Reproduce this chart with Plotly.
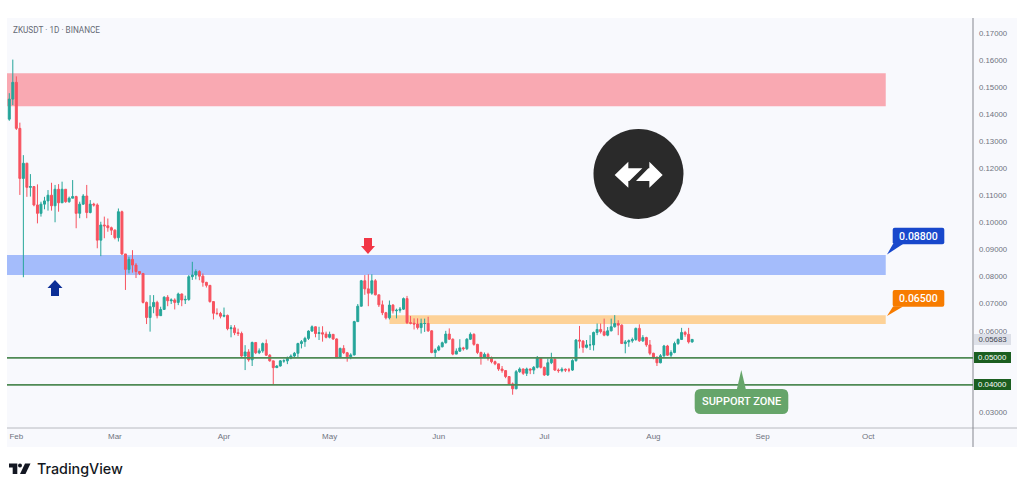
import pandas as pd
import plotly.graph_objects as go

first_day = "2025-01-30"
closes = [
 .1456,.1518,.1348,.1163,.1219,.1130,.1133,.1065,.1034,.1068,
 .1080,.1101,.1062,.1123,.1073,.1123,.1077,.1090,.1096,.1034,
 .1068,.1098,.1037,.1068,.1065,.0935,.0991,.0988,.0981,.0972,
 .0944,.1040,.0884,.0827,.0864,.0843,.0819,.0812,.0705,.0649,
 .0689,.0705,.0656,.0679,.0724,.0711,.0714,.0705,.0736,.0714,
 .0716,.0800,.0806,.0819,.0802,.0779,.0768,.0708,.0665,.0664,
 .0654,.0657,.0608,.0611,.0593,.0590,.0507,.0522,.0493,.0557,
 .0519,.0526,.0553,.0510,.0489,.0464,.0470,.0489,.0489,.0499,
 .0507,.0517,.0553,.0560,.0572,.0599,.0615,.0590,.0593,.0588,
 .0576,.0587,.0570,.0501,.0535,.0519,.0504,.0511,.0634,.0691,
 .0785,.0755,.0739,.0785,.0733,.0696,.0667,.0648,.0695,.0674,
 .0676,.0680,.0719,.0630,.0628,.0625,.0612,.0627,.0627,.0600,
 .0520,.0529,.0541,.0556,.0588,.0569,.0514,.0525,.0537,.0534,
 .0569,.0587,.0550,.0520,.0503,.0513,.0499,.0486,.0478,.0459,
 .0453,.0431,.0404,.0386,.0449,.0459,.0443,.0459,.0455,.0465,
 .0501,.0465,.0437,.0482,.0495,.0455,.0453,.0458,.0455,.0455,
 .0490,.0566,.0562,.0539,.0548,.0548,.0594,.0605,.0597,.0584,
 .0600,.0615,.0627,.0621,.0553,.0559,.0563,.0568,.0609,.0563,
 .0575,.0548,.0517,.0501,.0482,.0508,.0544,.0510,.0520,.0553,
 .0568,.0594,.0587,.0559,.05683]
highs = [
 .1478,.1602,.1540,.1369,.1249,.1221,.1179,.1135,.1141,.1077,
 .1095,.1120,.1147,.1139,.1142,.1151,.1123,.1096,.1157,.1099,
 .1077,.1105,.1139,.1083,.1073,.1071,.1003,.1022,.1015,.0985,
 .0975,.1052,.1044,.0884,.0874,.0898,.0850,.0820,.0812,.0708,
 .0732,.0732,.0711,.0689,.0728,.0732,.0720,.0720,.0741,.0738,
 .0730,.0806,.0855,.0827,.0824,.0812,.0781,.0769,.0708,.0683,
 .0670,.0686,.0660,.0621,.0621,.0608,.0597,.0547,.0532,.0560,
 .0557,.0535,.0557,.0568,.0514,.0489,.0473,.0492,.0495,.0505,
 .0513,.0522,.0556,.0566,.0578,.0602,.0620,.0617,.0615,.0617,
 .0597,.0597,.0588,.0572,.0538,.0547,.0522,.0517,.0637,.0699,
 .0788,.0806,.0809,.0809,.0791,.0733,.0712,.0670,.0712,.0699,
 .0682,.0688,.0723,.0729,.0655,.0646,.0646,.0645,.0645,.0652,
 .0602,.0535,.0547,.0560,.0600,.0609,.0572,.0535,.0569,.0541,
 .0573,.0594,.0591,.0552,.0523,.0520,.0519,.0505,.0490,.0478,
 .0470,.0455,.0433,.0409,.0455,.0465,.0461,.0464,.0461,.0470,
 .0507,.0501,.0468,.0498,.0519,.0499,.0461,.0465,.0461,.0463,
 .0495,.0569,.0618,.0566,.0566,.0584,.0597,.0627,.0627,.0645,
 .0614,.0645,.0658,.0639,.0624,.0566,.0568,.0575,.0612,.0624,
 .0584,.0578,.0566,.0519,.0507,.0514,.0548,.0548,.0528,.0560,
 .0572,.0611,.0600,.0611,.0569]
lows = [
 .1376,.1434,.1342,.1102,.0798,.1095,.1096,.1060,.0997,.1022,
 .1049,.1044,.1044,.1001,.1040,.1073,.1073,.1073,.1090,.0979,
 .1016,.1065,.1016,.1034,.1059,.0905,.0876,.0942,.0966,.0954,
 .0938,.0930,.0880,.0751,.0812,.0815,.0795,.0806,.0701,.0625,
 .0597,.0665,.0646,.0658,.0679,.0691,.0699,.0679,.0695,.0691,
 .0699,.0711,.0788,.0790,.0787,.0763,.0760,.0704,.0642,.0658,
 .0646,.0650,.0602,.0576,.0584,.0581,.0504,.0455,.0486,.0470,
 .0514,.0514,.0519,.0507,.0486,.0400,.0463,.0468,.0482,.0477,
 .0495,.0502,.0502,.0535,.0541,.0566,.0597,.0576,.0566,.0560,
 .0572,.0572,.0566,.0499,.0499,.0514,.0486,.0495,.0509,.0634,
 .0690,.0733,.0691,.0733,.0731,.0688,.0658,.0642,.0642,.0664,
 .0646,.0667,.0677,.0625,.0624,.0605,.0605,.0590,.0596,.0596,
 .0517,.0503,.0525,.0539,.0553,.0566,.0510,.0514,.0522,.0527,
 .0529,.0566,.0545,.0514,.0475,.0499,.0490,.0480,.0473,.0452,
 .0445,.0425,.0400,.0364,.0384,.0445,.0437,.0433,.0440,.0440,
 .0461,.0461,.0433,.0433,.0477,.0452,.0445,.0447,.0448,.0447,
 .0452,.0486,.0535,.0519,.0535,.0529,.0527,.0584,.0590,.0580,
 .0580,.0598,.0612,.0584,.0553,.0517,.0541,.0556,.0563,.0559,
 .0559,.0541,.0510,.0495,.0470,.0480,.0503,.0507,.0503,.0517,
 .0548,.0566,.0578,.0553,.0556]
opens = [.1382] + closes[:-1]
dates = pd.date_range(first_day, periods=len(closes), freq="D")

month_ticks = ["2025-02-01","2025-03-01","2025-04-01","2025-05-01","2025-06-01",
               "2025-07-01","2025-08-01","2025-09-01","2025-10-01"]
month_labels = ["Feb","Mar","Apr","May","Jun","Jul","Aug","Sep","Oct"]
price_ticks = [.03,.06,.07,.08,.09,.10,.11,.12,.13,.14,.15,.16,.17]

resistance_top = (.1430, .1552)
resistance_mid = (.0806, .0880)
resistance_low = (.0625, .0658)
supports = [.05, .04]
last_price = .05683

W, H = 1024, 490
L, R, T, B = 7, 973, 19, 428
def X(px): return (px - L) / (R - L)
def Y(py): return (B - py) / (B - T)
def poly(points, fill, layer="above"):
    d = "M " + " L ".join(f"{X(a):.5f},{Y(b):.5f}" for a, b in points) + " Z"
    return dict(type="path", xref="paper", yref="paper", path=d, fillcolor=fill,
                line=dict(width=0), layer=layer)
def rbox(x0, y0, x1, y1, r, fill):
    c = lambda a, b: f"{X(a):.5f},{Y(b):.5f}"
    d = (f"M {c(x0+r,y0)} L {c(x1-r,y0)} Q {c(x1,y0)} {c(x1,y0+r)} L {c(x1,y1-r)} "
         f"Q {c(x1,y1)} {c(x1-r,y1)} L {c(x0+r,y1)} Q {c(x0,y1)} {c(x0,y1-r)} "
         f"L {c(x0,y0+r)} Q {c(x0,y0)} {c(x0+r,y0)} Z")
    return dict(type="path", xref="paper", yref="paper", path=d, fillcolor=fill,
                line=dict(width=0), layer="above")
def zoomed(points, ox=580, oy=120):
    return [(ox + a / 3, oy + b / 3) for a, b in points]

RANGE_X = ["2025-01-29 08:24", "2025-10-30 19:00"]
ZONE_END = "2025-10-06"
ORANGE_START = "2025-05-18"

fig = go.Figure(go.Candlestick(
    x=dates, open=opens, high=highs, low=lows, close=closes,
    increasing=dict(line=dict(color="#26a69a", width=1), fillcolor="#26a69a"),
    decreasing=dict(line=dict(color="#f7525f", width=1), fillcolor="#f7525f"),
    hoverinfo="skip", showlegend=False))

shapes = [
    dict(type="rect", xref="paper", yref="paper", x0=X(7), x1=X(1017), y0=Y(447), y1=Y(18),
         fillcolor="#f8f9fd", line=dict(width=0), layer="below"),
    dict(type="rect", xref="x", yref="y", x0=RANGE_X[0], x1=ZONE_END,
         y0=resistance_top[0], y1=resistance_top[1], fillcolor="#f9a9b2", line=dict(width=0), layer="below"),
    dict(type="rect", xref="x", yref="y", x0=RANGE_X[0], x1=ZONE_END,
         y0=resistance_mid[0], y1=resistance_mid[1], fillcolor="#a4bcfb", line=dict(width=0), layer="below"),
    dict(type="rect", xref="x", yref="y", x0=ORANGE_START, x1=ZONE_END,
         y0=resistance_low[0], y1=resistance_low[1], fillcolor="#fdd298", line=dict(width=0), layer="below"),
    dict(type="line", xref="paper", yref="paper", x0=X(7), x1=X(1017), y0=Y(428), y1=Y(428),
         line=dict(color="#b8bac0", width=1), layer="above"),
    dict(type="line", xref="paper", yref="paper", x0=X(973), x1=X(973), y0=Y(18), y1=Y(447),
         line=dict(color="#85878f", width=1), layer="above"),
]
for s in supports:
    shapes.append(dict(type="line", xref="paper", yref="y", x0=0, x1=1, y0=s, y1=s,
                       line=dict(color="#4f8a55", width=1.8), layer="above"))
# up and down arrows
shapes.append(poly([(55,280),(62.5,288),(59,288),(59,296),(51,296),(51,288),(47.5,288)], "#0b2e96"))
shapes.append(poly([(368,254),(375,246),(372,246),(372,238),(364,238),(364,246),(361,246)], "#f23645"))
# dark badge
shapes.append(dict(type="circle", xref="paper", yref="paper", x0=X(593.5), x1=X(683.5),
                   y0=Y(219), y1=Y(129), fillcolor="#2a2a2a", line=dict(width=0), layer="above"))
shapes.append(poly(zoomed([(104,165),(145,125),(145,145),(187,145),(148,183),(145,183),(145,203)]), "#ffffff"))
shapes.append(poly(zoomed([(248,165),(208,125),(208,145),(205,145),(168,183),(208,183),(208,203)]), "#ffffff"))
# callouts
shapes.append(poly([(893,244),(903,244),(887,254.5)], "#1848cc"))
shapes.append(rbox(892.7,227.7,944.3,244.3,2,"#1848cc"))
shapes.append(poly([(893,306.5),(903,306.5),(887,316)], "#f77c00"))
shapes.append(rbox(892.7,290,944.3,306.7,2,"#f77c00"))
shapes.append(poly([(736.7,390),(746,390),(741.3,370)], "#66a56a"))
shapes.append(rbox(694.7,389,788.3,414,6,"#66a56a"))
# TradingView mark
shapes.append(poly([(9,463.5),(17.3,463.5),(17.3,474),(12.7,474),(12.7,467.5),(9,467.5)], "#131722"))
shapes.append(dict(type="circle", xref="paper", yref="paper", x0=X(18),x1=X(22),
                   y0=Y(467.5), y1=Y(463.5), fillcolor="#131722", line=dict(width=0), layer="above"))
shapes.append(poly([(25,463.5),(30.5,463.5),(25.5,474),(20,474)], "#131722"))

def note(text, px, py, size, color, weight=400, family="Roboto", anchor="center"):
    return dict(text=text, xref="paper", yref="paper",
                x=X(px), y=Y(py), xanchor=anchor, yanchor="middle", showarrow=False,
                font=dict(size=size, color=color, family=family, weight=weight))

annotations = [
    note("ZKUSDT · 1D · BINANCE", 11, 30, 8.2, "#666a75", anchor="left"),
    note("0.08800", 918.5, 236, 10.5, "#ffffff", 500),
    note("0.06500", 918.5, 298.5, 10.5, "#ffffff", 500),
    note("SUPPORT ZONE", 741.5, 401.5, 11, "#ffffff", 500),
    note("TradingView", 34.5, 468.5, 14.3, "#131722", 500, family="Inter", anchor="left"),
]
for s, bg, fg in [(supports[0], "#1b5e20", "#ffffff"), (supports[1], "#1b5e20", "#ffffff"),
                  (last_price, "#dde0e8", "#434651")]:
    annotations.append(dict(text=f"{s:.5f}", xref="paper", yref="y", x=X(973.5), y=s,
                            xanchor="left", yanchor="middle", showarrow=False, width=37, height=10.5,
                            bgcolor=bg, borderpad=0, borderwidth=0, align="center",
                            font=dict(size=7.8, color=fg, family="Liberation Sans")))

fig.update_layout(
    width=W, height=H, margin=dict(l=L, r=W - R, t=T, b=H - B, autoexpand=False),
    paper_bgcolor="#ffffff", plot_bgcolor="rgba(0,0,0,0)", showlegend=False,
    boxgap=0.2, shapes=shapes, annotations=annotations,
    xaxis=dict(type="date", range=RANGE_X, rangeslider=dict(visible=False), showgrid=False,
               zeroline=False, showline=False, ticks="", tickmode="array",
               tickvals=month_ticks, ticktext=month_labels, ticklabelstandoff=2,
               tickfont=dict(size=8, color="#6f7380", family="Liberation Sans")),
    yaxis=dict(side="right", range=[.0241, .1752], showgrid=False, zeroline=False, showline=False,
               ticks="", tickmode="array", tickvals=price_ticks, ticklabelstandoff=5,
               ticktext=[f"{p:.5f}" for p in price_ticks],
               tickfont=dict(size=7.8, color="#6f7380", family="Liberation Sans")),
)
fig.write_html("out.html", config=dict(displayModeBar=False),
               post_script="document.body.style.margin='0';document.body.style.overflow='hidden';")
